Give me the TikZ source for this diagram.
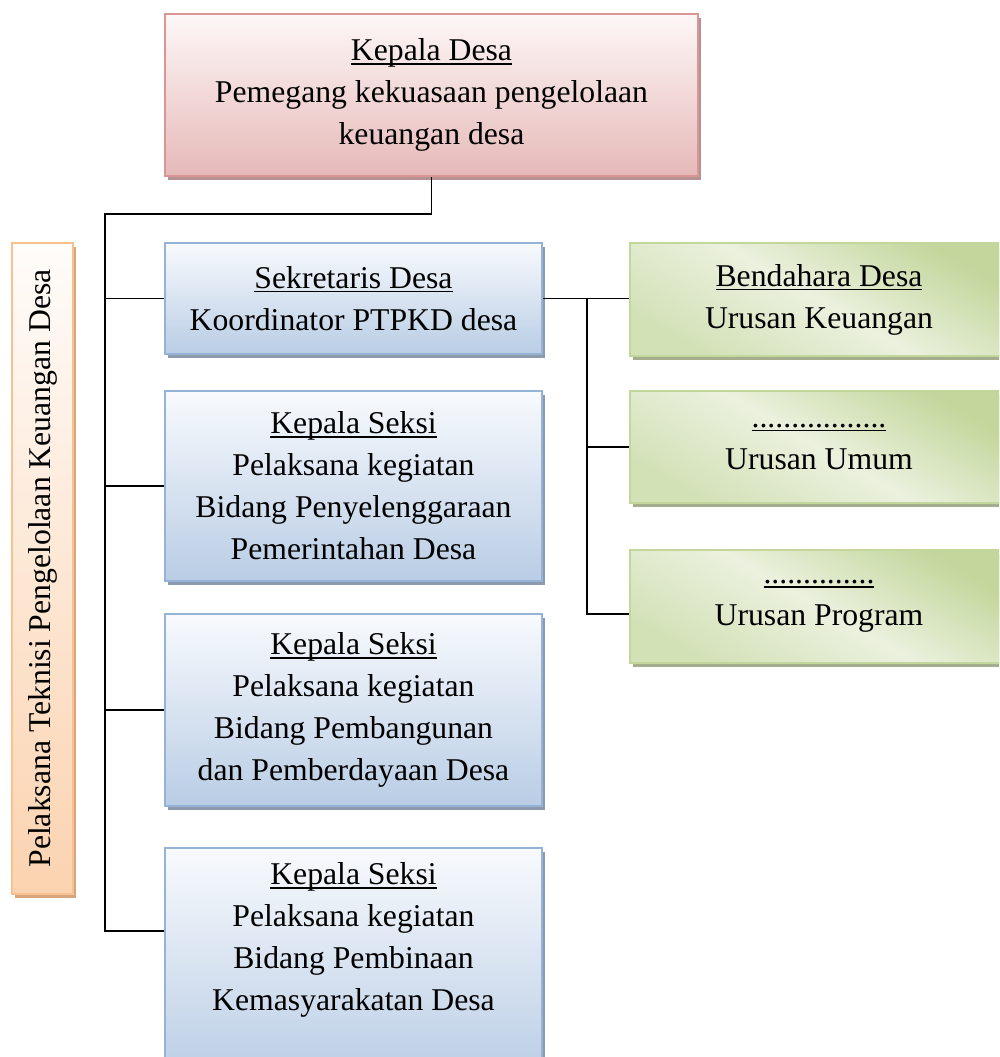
\documentclass[tikz,border=0pt]{standalone}
\usepackage{fontspec}
\usepackage{graphicx}
\setmainfont{Liberation Serif}
\usetikzlibrary{shadows,calc}
\definecolor{rdT}{HTML}{FDF7F7}
\definecolor{rdB}{HTML}{E6B9B8}
\definecolor{rdD}{HTML}{D99694}
\definecolor{rdS}{HTML}{B59192}
\definecolor{blT}{HTML}{F8FAFD}
\definecolor{blB}{HTML}{B9CDE5}
\definecolor{blD}{HTML}{95B3D7}
\definecolor{blS}{HTML}{8D9AAD}
\definecolor{grL}{HTML}{EBF1DE}
\definecolor{grD}{HTML}{C3D69B}
\definecolor{grM}{HTML}{D3E1B7}
\definecolor{grE}{HTML}{C3D69B}
\definecolor{grS}{HTML}{A4AE8D}
\definecolor{orT}{HTML}{FFFCFA}
\definecolor{orB}{HTML}{FBD3B0}
\definecolor{orD}{HTML}{FAC090}
\definecolor{orS}{HTML}{D8A57C}
\pgfdeclarehorizontalshading{greensh}{100bp}{color(0bp)=(grM); color(25bp)=(grM); color(50bp)=(grL); color(75bp)=(grD); color(100bp)=(grD)}
\newcommand\ulx[1]{\setbox0\hbox{#1}\rlap{\rule[-4pt]{\wd0}{1.5pt}}\box0}
\begin{document}
\begin{tikzpicture}[x=1pt,y=-1pt,
  box/.style={draw, line width=1.8pt, align=center, inner sep=0pt,
    font=\fontsize{31.7pt}{42pt}\selectfont},
  redbox/.style={box, draw=rdD, top color=rdT, bottom color=rdB,
    minimum width=533pt, minimum height=162pt,
    drop shadow={opacity=1, fill=rdS, shadow xshift=3pt, shadow yshift=-4pt}},
  bluebox/.style={box, draw=blD, top color=blT, bottom color=blB,
    minimum width=377pt,
    drop shadow={opacity=1, fill=blS, shadow xshift=3pt, shadow yshift=-4pt}},
  greenbox/.style={box, draw=grE, shading=greensh, shading angle=60,
    minimum width=378pt, minimum height=113pt,
    drop shadow={opacity=1, fill=grS, shadow xshift=3pt, shadow yshift=-4pt}},
  orangebox/.style={box, draw=orD, top color=orT, bottom color=orB,
    minimum width=61pt, minimum height=651pt,
    drop shadow={opacity=1, fill=orS, shadow xshift=3pt, shadow yshift=-4pt}},
  conn/.style={line width=1.8pt, black}]
\useasboundingbox (0,0) rectangle (999,1057);
\clip (0,0) rectangle (999,1057);

\node[redbox] (kd) at (431.5,95) {\ulx{Kepala Desa}\\Pemegang kekuasaan pengelolaan\\keuangan desa};

\node[orangebox] (pt) at (42.5,568.5) {\rotatebox{90}{Pelaksana Teknisi Pengelolaan Keuangan Desa}};

\node[bluebox, minimum height=111pt] (sd) at (353.5,298.5) {\ulx{Sekretaris Desa}\\Koordinator PTPKD desa};
\node[bluebox, minimum height=190pt] (ks1) at (353.5,486) {\ulx{Kepala Seksi}\\Pelaksana kegiatan\\Bidang Penyelenggaraan\\Pemerintahan Desa};
\node[bluebox, minimum height=192pt] (ks2) at (353.5,710) {\ulx{Kepala Seksi}\\Pelaksana kegiatan\\Bidang Pembangunan\\dan Pemberdayaan Desa};
\node[bluebox, minimum height=232pt] (ks3) at (353.5,964) {\ulx{Kepala Seksi}\\Pelaksana kegiatan\\Bidang Pembinaan\\Kemasyarakatan Desa\\\strut};

\node[greenbox] (bd) at (819,299.5) {\ulx{Bendahara Desa}\\Urusan Keuangan};
\node[greenbox, minimum height=112pt] (uu) at (819,447) {\ulx{.................}\\Urusan Umum};
\node[greenbox] (up) at (819,606.5) {\ulx{..............}\\Urusan Program};

\coordinate (jt) at (105,214);
\coordinate (jb) at (105,931);
\coordinate (rt) at (587,298.5);
\coordinate (rb) at (587,614);

\draw[conn] (kd.south) |- (jt) -- (jb) -- (jb -| ks3.west);
\draw[conn] (jt |- sd.west) -- (sd.west);
\draw[conn] (jt |- ks1.west) -- (ks1.west);
\draw[conn] (jt |- ks2.west) -- (ks2.west);
\draw[conn] (sd.east) -- (sd.east -| bd.west);
\draw[conn] (rt) -- (rb) -- (rb -| up.west);
\draw[conn] (rt |- uu.west) -- (uu.west);
\end{tikzpicture}
\end{document}
